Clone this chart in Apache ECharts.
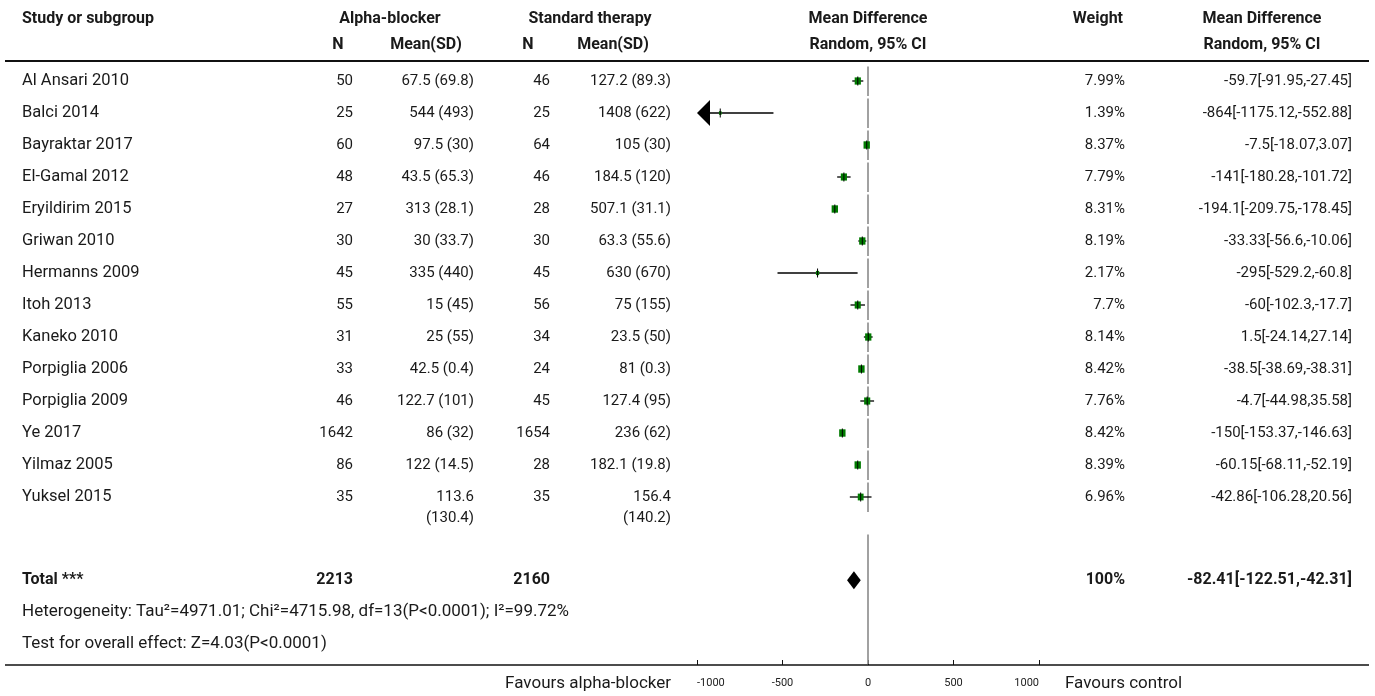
<!DOCTYPE html>
<html>
<head>
<meta charset="utf-8">
<script src="https://cdn.jsdelivr.net/npm/echarts@6/dist/echarts.min.js"></script>
<style>
  html, body { margin: 0; padding: 0; background: #fff; }
  #chart { width: 1375px; height: 696px; }
</style>
</head>
<body>
<div id="chart"></div>
<script>
// Forest plot: alpha-blocker vs standard therapy, mean difference (random effects)
const studies = ['Al Ansari 2010', 'Balci 2014', 'Bayraktar 2017', 'El-Gamal 2012', 'Eryildirim 2015',
  'Griwan 2010', 'Hermanns 2009', 'Itoh 2013', 'Kaneko 2010', 'Porpiglia 2006', 'Porpiglia 2009',
  'Ye 2017', 'Yilmaz 2005', 'Yuksel 2015'];
const alphaN = [50, 25, 60, 48, 27, 30, 45, 55, 31, 33, 46, 1642, 86, 35];
const alphaMean = ['67.5', '544', '97.5', '43.5', '313', '30', '335', '15', '25', '42.5', '122.7', '86', '122', '113.6'];
const alphaSD = ['69.8', '493', '30', '65.3', '28.1', '33.7', '440', '45', '55', '0.4', '101', '32', '14.5', '130.4'];
const stdN = [46, 25, 64, 46, 28, 30, 45, 56, 34, 24, 45, 1654, 28, 35];
const stdMean = ['127.2', '1408', '105', '184.5', '507.1', '63.3', '630', '75', '23.5', '81', '127.4', '236', '182.1', '156.4'];
const stdSD = ['89.3', '622', '30', '120', '31.1', '55.6', '670', '155', '50', '0.3', '95', '62', '19.8', '140.2'];
const meanDiff = [-59.7, -864, -7.5, -141, -194.1, -33.33, -295, -60, 1.5, -38.5, -4.7, -150, -60.15, -42.86];
const ciLow = [-91.95, -1175.12, -18.07, -180.28, -209.75, -56.6, -529.2, -102.3, -24.14, -38.69, -44.98, -153.37, -68.11, -106.28];
const ciHigh = [-27.45, -552.88, 3.07, -101.72, -178.45, -10.06, -60.8, -17.7, 27.14, -38.31, 35.58, -146.63, -52.19, 20.56];
const weights = [7.99, 1.39, 8.37, 7.79, 8.31, 8.19, 2.17, 7.7, 8.14, 8.42, 7.76, 8.42, 8.39, 6.96];

const totalLabel = 'Total ***';
const totalAlphaN = 2213;
const totalStdN = 2160;
const totalMD = -82.41;
const totalLow = -122.51;
const totalHigh = -42.31;
const totalWeight = '100%';
const heterogeneityText = 'Heterogeneity: Tau\u00b2=4971.01; Chi\u00b2=4715.98, df=13(P<0.0001); I\u00b2=99.72%';
const overallText = 'Test for overall effect: Z=4.03(P<0.0001)';

const xTicks = [-1000, -500, 0, 500, 1000];
const favourLeft = 'Favours alpha-blocker';
const favourRight = 'Favours control';

// ---- layout ----
const FONT = 'Roboto, "Noto Sans", sans-serif';
const FS = 15;        // numbers
const FS_BOLD = 16;   // headers and totals
const FS_NAME = 16.5; // study names
const FS_NOTE = 17;   // notes and favours labels
const TXT = '#1a1a1a';
const GREEN = '#007a00';
const gridTop = 65, rowH = 32, gridLeft = 697, gridWidth = 342;
const yMin = -0.5, yMax = 18.25;
const totalRow = 15.6, hetRow = 16.6, overallRow = 17.6;
const rowY = r => gridTop + rowH * (r - yMin);

const col = {
  study: 22, aN: 353, aMean: 474, sN: 550, sMean: 671, weight: 1125, ci: 1352
};

const graphics = [];
function txt(text, x, y, align, bold, size) {
  graphics.push({
    type: 'text', silent: true,
    style: {
      text: text, x: x, y: y, textAlign: align || 'left', textVerticalAlign: 'middle',
      font: (bold ? 'bold ' : '') + (size || (bold ? FS_BOLD : FS)) + 'px ' + FONT, fill: TXT
    }
  });
}
function hline(y, x1, x2, w) {
  graphics.push({ type: 'line', silent: true, shape: { x1: x1, y1: y, x2: x2, y2: y },
    style: { stroke: '#111', lineWidth: w } });
}

// header
const h1 = 19, h2 = 45;
txt('Study or subgroup', col.study, h1, 'left', true);
txt('Alpha-blocker', 390, h1, 'center', true);
txt('Standard therapy', 590, h1, 'center', true);
txt('Mean Difference', 868, h1, 'center', true);
txt('Weight', 1123, h1, 'right', true);
txt('Mean Difference', 1262, h1, 'center', true);
txt('N', 338, h2, 'center', true);
txt('Mean(SD)', 426, h2, 'center', true);
txt('N', 528, h2, 'center', true);
txt('Mean(SD)', 613, h2, 'center', true);
txt('Random, 95% CI', 868, h2, 'center', true);
txt('Random, 95% CI', 1262, h2, 'center', true);
hline(61, 5, 1369, 2);

// study rows
function meanSD(m, sd) {
  const s = m + ' (' + sd + ')';
  return s.length > 12 ? m + '\n(' + sd + ')' : s;
}
studies.forEach((name, i) => {
  const y = rowY(i);
  txt(name, col.study, y, 'left', false, FS_NAME);
  txt(String(alphaN[i]), col.aN, y, 'right');
  txt(String(stdN[i]), col.sN, y, 'right');
  [[alphaMean[i], alphaSD[i], col.aMean], [stdMean[i], stdSD[i], col.sMean]].forEach(([m, sd, x]) => {
    const lines = meanSD(m, sd).split('\n');
    lines.forEach((ln, k) => txt(ln, x, y + k * 21, 'right'));
  });
  txt(weights[i] + '%', col.weight, y, 'right');
  txt(meanDiff[i] + '[' + ciLow[i] + ',' + ciHigh[i] + ']', col.ci, y, 'right');
});

// total row and footnotes
const ty = rowY(totalRow);
txt(totalLabel, col.study, ty, 'left', true);
txt(String(totalAlphaN), col.aN, ty, 'right', true);
txt(String(totalStdN), col.sN, ty, 'right', true);
txt(totalWeight, col.weight, ty, 'right', true);
txt(totalMD + '[' + totalLow + ',' + totalHigh + ']', col.ci, ty, 'right', true);
txt(heterogeneityText, col.study, rowY(hetRow), 'left', false, FS_NOTE);
txt(overallText, col.study, rowY(overallRow), 'left', false, FS_NOTE);

// bottom rule and favours labels
const axisY = gridTop + rowH * (yMax - yMin);
hline(axisY, 5, 1369, 1.5);
txt(favourLeft, 671, axisY + 19, 'right', false, FS_NOTE);
txt(favourRight, 1065, axisY + 19, 'left', false, FS_NOTE);

// zero-line segments: one per study row, then a single run through the total block
const zeroSegs = studies.map((_, i) => [i - 0.5, i + 0.5]);
zeroSegs.push([14.125, yMax]);

const studyData = studies.map((_, i) => [i, ciLow[i], ciHigh[i], meanDiff[i], weights[i]]);

const option = {
  animation: false,
  backgroundColor: '#fff',
  grid: { left: gridLeft, top: gridTop, width: gridWidth, height: rowH * (yMax - yMin) },
  xAxis: {
    type: 'value', min: -1000, max: 1000, interval: 500,
    axisLine: { show: false, onZero: false },
    splitLine: { show: false },
    axisTick: { show: true, inside: true, length: 5, lineStyle: { color: '#111', width: 1 } },
    axisLabel: {
      margin: 13, fontSize: 11, color: '#222', fontFamily: FONT,
      alignMinLabel: 'left', alignMaxLabel: 'right',
      formatter: v => xTicks.indexOf(v) >= 0 ? String(v) : ''
    }
  },
  yAxis: { type: 'value', inverse: true, min: yMin, max: yMax, show: false },
  series: [
    {
      type: 'custom', name: 'zero', silent: true, z: 1,
      data: zeroSegs,
      encode: { y: [0, 1] },
      renderItem: (params, api) => {
        const a = api.coord([0, api.value(0)]);
        const b = api.coord([0, api.value(1)]);
        return {
          type: 'line',
          shape: { x1: a[0], y1: a[1] + 1.5, x2: b[0], y2: b[1] - 1 },
          style: { stroke: '#8a8a8a', lineWidth: 1.6 }
        };
      }
    },
    {
      type: 'custom', name: 'studies', silent: true, z: 3,
      data: studyData,
      encode: { x: [1, 2, 3], y: 0 },
      renderItem: (params, api) => {
        const row = api.value(0), lo = api.value(1), hi = api.value(2), m = api.value(3), w = api.value(4);
        const pLo = api.coord([Math.max(lo, -1000), row]);
        const pHi = api.coord([Math.min(hi, 1000), row]);
        const pM = api.coord([m, row]);
        const y = pM[1];
        const children = [];
        let x1 = pLo[0], x2 = pHi[0];
        const aw = 13, ah = 13;
        if (lo < -1000) {
          children.push({ type: 'polygon', shape: { points: [[x1, y], [x1 + aw, y - ah], [x1 + aw, y + ah]] },
            style: { fill: '#000' } });
          x1 += aw;
        }
        if (hi > 1000) {
          children.push({ type: 'polygon', shape: { points: [[x2, y], [x2 - aw, y - ah], [x2 - aw, y + ah]] },
            style: { fill: '#000' } });
          x2 -= aw;
        }
        children.push({ type: 'line', shape: { x1: x1, y1: y, x2: x2, y2: y },
          style: { stroke: '#000', lineWidth: 1.3 } });
        const s = 2.2 * Math.sqrt(w);
        children.push({ type: 'rect', shape: { x: pM[0] - s / 2, y: y - s / 2 - 0.5, width: s, height: s + 1 },
          style: { fill: GREEN } });
        children.push({ type: 'line', shape: { x1: pM[0], y1: y - 4.5, x2: pM[0], y2: y + 4.5 },
          style: { stroke: '#000', lineWidth: 1 } });
        return { type: 'group', children: children };
      }
    },
    {
      type: 'custom', name: 'total', silent: true, z: 3,
      data: [[totalRow, totalLow, totalHigh, totalMD]],
      encode: { x: [1, 2, 3], y: 0 },
      renderItem: (params, api) => {
        const row = api.value(0);
        const pLo = api.coord([api.value(1), row]);
        const pHi = api.coord([api.value(2), row]);
        const pM = api.coord([api.value(3), row]);
        const y = pM[1], hh = 9;
        return {
          type: 'polygon',
          shape: { points: [[pLo[0], y], [pM[0], y - hh], [pHi[0], y], [pM[0], y + hh]] },
          style: { fill: '#000' }
        };
      }
    }
  ],
  graphic: graphics
};

const chart = echarts.init(document.getElementById('chart'), null, { renderer: 'canvas' });
chart.setOption(option);
</script>
</body>
</html>
